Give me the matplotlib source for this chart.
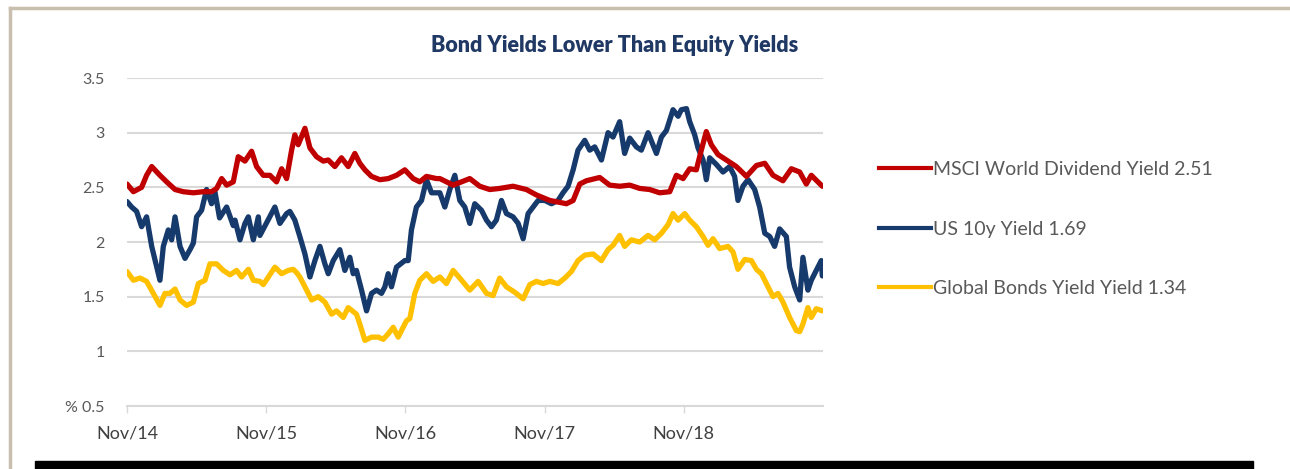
import numpy as np
import matplotlib
matplotlib.use('Agg')
import matplotlib.pyplot as plt
from matplotlib.lines import Line2D
from matplotlib.patches import Rectangle

# x positions are months since Nov/14
msci_m = [0, 0.55, 1.26, 1.69, 2.13, 2.84, 3.42, 4.14, 4.85, 5.72, 6.58, 7.29, 7.73, 8.16, 8.59,
          9.16, 9.59, 10.17, 10.74, 11.17, 11.75, 12.32, 12.89, 13.33, 13.76, 14.19, 14.47, 14.76,
          15.34, 15.77, 16.34, 16.92, 17.35, 17.92, 18.49, 19.07, 19.64, 20.07, 20.51, 21.08, 21.80,
          22.52, 23.23, 23.95, 24.67, 25.24, 25.82, 26.68,
          26.97, 28.12, 29.55, 30.41, 31.27, 32.13, 33.28, 34.43, 35.30, 36.45, 37.88, 38.46, 39.03,
          39.60, 40.75, 41.61, 42.47, 43.34, 44.20, 45.06, 45.92, 46.79, 47.36, 47.94, 48.51, 49.08,
          49.51, 49.94, 50.37, 50.95, 51.67, 52.53, 53.40, 54.26, 54.98, 55.69, 56.55, 57.27, 57.99,
          58.56, 58.99, 59.56, 59.94]
msci_v = [2.53, 2.46, 2.50, 2.61, 2.69, 2.61, 2.55, 2.48, 2.46, 2.45, 2.46, 2.46, 2.49, 2.58, 2.52,
          2.55, 2.78, 2.74, 2.83, 2.69, 2.61, 2.61, 2.55, 2.67, 2.58, 2.84, 2.98, 2.89,
          3.04, 2.86, 2.78, 2.74, 2.75, 2.69, 2.77, 2.69, 2.81, 2.72, 2.66, 2.60, 2.57,
          2.58, 2.61, 2.66, 2.58, 2.55, 2.60, 2.58,
          2.58, 2.52, 2.58, 2.51, 2.48, 2.49, 2.51, 2.48, 2.43, 2.38, 2.35, 2.38, 2.53,
          2.56, 2.59, 2.52, 2.51, 2.52, 2.49, 2.48, 2.45, 2.46, 2.61, 2.58, 2.67, 2.66,
          2.84, 3.01, 2.89, 2.80, 2.75, 2.69, 2.60, 2.70, 2.72, 2.61, 2.56, 2.67, 2.64,
          2.53, 2.61, 2.55, 2.51]

us10_m = [0, 0.40, 0.83, 1.26, 1.69, 2.13, 2.56, 2.84, 3.13, 3.56, 3.85, 4.14, 4.57, 5.00, 5.43,
          5.72, 6.00, 6.43, 6.86, 7.29, 7.58, 7.98, 8.59, 9.16, 9.31, 9.74, 10.17, 10.46, 10.89,
          11.32, 11.46, 12.75, 13.18, 13.76, 14.04, 14.47, 14.90, 15.34, 15.77, 16.20, 16.63, 17.06,
          17.35, 17.78, 18.35, 18.78, 19.21, 19.50, 19.78, 20.22, 20.65, 21.08, 21.51, 21.94, 22.23,
          22.52, 22.80, 23.23, 23.95, 24.24, 24.52, 24.95, 25.39, 25.82, 26.25,
          26.97, 27.40, 27.83, 28.26, 28.69, 29.12, 29.55, 29.98, 30.56, 30.99, 31.42, 31.84, 32.28,
          32.71, 33.28, 33.72, 34.15, 34.58, 35.01, 35.44, 36.02, 36.59, 37.16, 37.59, 38.02, 38.46,
          38.88, 39.46, 39.89, 40.32, 40.90, 41.47, 41.90, 42.47, 42.90, 43.34, 43.91, 44.34, 44.92,
          45.64, 46.07, 46.50, 47.07, 47.51, 47.79, 48.23, 48.51, 48.94, 49.23, 49.66, 49.94, 50.23,
          50.80, 51.38, 51.95, 52.38, 52.67, 53.10, 53.54, 54.11, 54.54, 54.98, 55.41, 55.83, 56.26,
          56.84, 57.12, 57.56, 57.99, 58.27, 58.70, 58.99, 59.42, 59.85, 59.94]
us10_v = [2.37, 2.32, 2.28, 2.14, 2.23, 1.96, 1.77, 1.65, 1.96, 2.11, 2.02, 2.23, 1.96, 1.85, 1.93,
          1.99, 2.23, 2.29, 2.48, 2.35, 2.46, 2.22, 2.32, 2.15, 2.20, 2.02, 2.17, 2.23, 2.02,
          2.23, 2.06, 2.32, 2.17, 2.26, 2.28, 2.20, 2.05, 1.89, 1.68, 1.83, 1.96, 1.80,
          1.71, 1.83, 1.93, 1.74, 1.86, 1.71, 1.74, 1.56, 1.37, 1.53, 1.56, 1.53, 1.59,
          1.71, 1.59, 1.77, 1.83, 1.83, 2.11, 2.32, 2.38, 2.57, 2.45,
          2.45, 2.32, 2.48, 2.61, 2.38, 2.32, 2.17, 2.35, 2.29, 2.20, 2.14, 2.20, 2.38,
          2.26, 2.23, 2.17, 2.03, 2.26, 2.32, 2.38, 2.38, 2.35, 2.38, 2.45, 2.51, 2.66,
          2.84, 2.93, 2.84, 2.87, 2.75, 3.00, 2.96, 3.10, 2.81, 2.95, 2.87, 2.84, 3.00,
          2.81, 2.96, 3.02, 3.21, 3.15, 3.21, 3.22, 3.10, 2.98, 2.86, 2.75, 2.57, 2.77,
          2.71, 2.64, 2.69, 2.60, 2.38, 2.51, 2.57, 2.48, 2.32, 2.08, 2.05, 1.96, 2.12,
          2.05, 1.77, 1.59, 1.47, 1.86, 1.56, 1.65, 1.74, 1.83, 1.69]

glob_m = [0, 0.55, 1.12, 1.69, 2.27, 2.84, 3.27, 3.70, 4.14, 4.57, 5.14, 5.72, 6.15, 6.72, 7.15,
          7.73, 8.30, 8.88, 9.45, 9.88, 10.46, 10.89, 11.46, 11.75, 12.75, 13.33, 13.90, 14.33,
          14.62, 14.90, 15.34, 15.92, 16.49, 17.06, 17.64, 18.06, 18.64, 19.07, 19.78, 20.07,
          20.51, 21.08, 21.66, 22.09, 22.52, 22.95, 23.38, 23.95, 24.10, 24.38, 24.81, 25.24,
          25.82, 26.39,
          26.97, 27.54, 28.12, 28.69, 29.55, 30.27, 30.99, 31.56, 32.13, 32.71, 33.43, 34.15,
          34.72, 35.30, 35.87, 36.45, 37.16, 37.74, 38.31, 38.88, 39.46, 40.18, 40.90, 41.47,
          41.90, 42.47, 42.90, 43.48, 44.20, 44.92, 45.49, 46.07, 46.65, 47.07, 47.51, 48.08,
          48.51, 49.08, 49.66, 50.09, 50.52, 51.09, 51.81, 52.24, 52.67, 53.25, 53.83, 54.26,
          54.69, 55.26, 55.69, 56.12, 56.55, 57.12, 57.70, 57.99, 58.27, 58.70, 58.99, 59.42,
          59.94]
glob_v = [1.73, 1.65, 1.67, 1.64, 1.53, 1.42, 1.53, 1.53, 1.57, 1.47, 1.42, 1.45, 1.62, 1.65, 1.80,
          1.80, 1.74, 1.70, 1.74, 1.68, 1.75, 1.65, 1.64, 1.61, 1.77, 1.71, 1.74, 1.75,
          1.72, 1.68, 1.59, 1.47, 1.50, 1.45, 1.34, 1.37, 1.31, 1.40, 1.34, 1.25,
          1.10, 1.13, 1.13, 1.11, 1.16, 1.22, 1.13, 1.25, 1.28, 1.30, 1.53, 1.65,
          1.71, 1.64,
          1.68, 1.62, 1.74, 1.67, 1.56, 1.64, 1.53, 1.51, 1.67, 1.59, 1.54, 1.48,
          1.61, 1.64, 1.62, 1.64, 1.62, 1.67, 1.73, 1.83, 1.88, 1.89, 1.83, 1.93,
          1.97, 2.06, 1.96, 2.02, 2.00, 2.06, 2.02, 2.08, 2.16, 2.26, 2.20, 2.26,
          2.20, 2.14, 2.05, 1.97, 2.03, 1.94, 1.96, 1.91, 1.75, 1.84, 1.83, 1.75,
          1.71, 1.59, 1.50, 1.53, 1.45, 1.31, 1.19, 1.18, 1.25, 1.40, 1.31, 1.39,
          1.37]

tick_pos = [0, 12, 24, 36, 48]
tick_lab = ['Nov/14', 'Nov/15', 'Nov/16', 'Nov/17', 'Nov/18']
y_ticks = [0.5, 1, 1.5, 2, 2.5, 3, 3.5]
y_labs = ['% 0.5', '1', '1.5', '2', '2.5', '3', '3.5']

names = ['MSCI World Dividend Yield 2.51', 'US 10y Yield 1.69', 'Global Bonds Yield Yield 1.34']
colors = ['#c00000', '#163a6b', '#ffc000']

plt.rcParams['font.family'] = ['Lato', 'DejaVu Sans']

fig = plt.figure(figsize=(12.9, 4.69), dpi=100)
ax = fig.add_axes([127 / 1290, 1 - 406 / 469, 696 / 1290, 328 / 469])

kw = dict(lw=3.8, solid_capstyle='round', solid_joinstyle='round')
ax.plot(glob_m, glob_v, color=colors[2], **kw)
ax.plot(us10_m, us10_v, color=colors[1], **kw)
ax.plot(msci_m, msci_v, color=colors[0], **kw)

ax.set_xlim(0, 60)
ax.set_ylim(0.5, 3.5)
ax.set_yticks(y_ticks)
ax.set_yticklabels(y_labs, fontsize=11.5, color='#595959')
ax.set_xticks(tick_pos)
ax.set_xticklabels(tick_lab, fontsize=13, color='#404040')
ax.grid(axis='y', color='#d9d9d9', lw=1.5)
ax.set_axisbelow(True)
for s in ['top', 'right', 'left']:
    ax.spines[s].set_visible(False)
ax.spines['bottom'].set_color('#d9d9d9')
ax.spines['bottom'].set_linewidth(1.5)
ax.tick_params(axis='y', length=0, pad=16)
ax.tick_params(axis='x', length=5, color='#d9d9d9', width=1, pad=9)

fig.text(615 / 1290, 1 - 46 / 469, 'Bond Yields Lower Than Equity Yields', ha='center', va='center',
         fontsize=15.5, fontweight='heavy', color='#1f3864')

handles = [Line2D([0], [0], color=c, lw=3) for c in colors]
fig.legend(handles, names, loc='center left', bbox_to_anchor=(861 / 1290, 1 - 229 / 469),
           frameon=False, fontsize=14, labelcolor='#595959', handlelength=2.7,
           handletextpad=0.1, labelspacing=2.2)

# frame lines and bottom bar
fig.add_artist(Line2D([10 / 1290, 1], [1 - 8 / 469, 1 - 8 / 469], color='#c8bfae', lw=2.5))
fig.add_artist(Line2D([10 / 1290, 10 / 1290], [0, 1 - 8 / 469], color='#c8bfae', lw=2.5))
fig.add_artist(Rectangle((35 / 1290, 0), (1253 - 35) / 1290, 8 / 469, color='black',
                         transform=fig.transFigure))

fig.savefig('out.png', dpi=100)
